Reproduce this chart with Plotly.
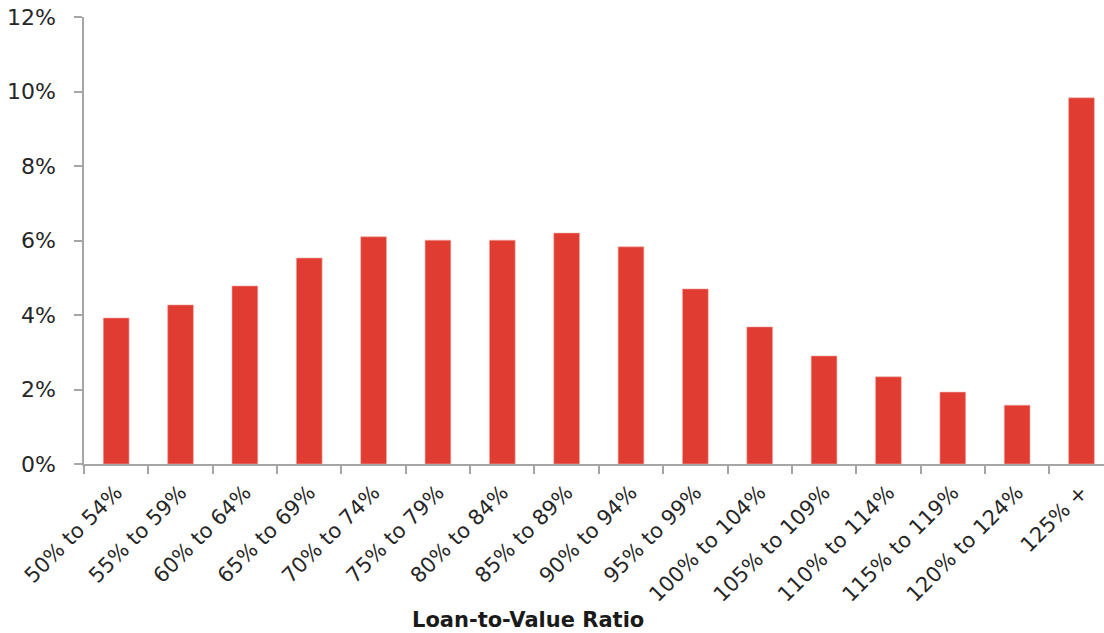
import plotly.graph_objects as go

categories = ["50% to 54%", "55% to 59%", "60% to 64%", "65% to 69%", "70% to 74%",
              "75% to 79%", "80% to 84%", "85% to 89%", "90% to 94%", "95% to 99%",
              "100% to 104%", "105% to 109%", "110% to 114%", "115% to 119%",
              "120% to 124%", "125% +"]
shares = [3.92, 4.27, 4.78, 5.53, 6.10, 6.01, 6.01, 6.20, 5.83, 4.70,
          3.68, 2.90, 2.34, 1.93, 1.58, 9.83]
y_ticks = [0, 2, 4, 6, 8, 10, 12]
y_tick_text = [f"{v}%" for v in y_ticks]

axis_grey = "#a6a6a6"
text_col = "#262626"
font_family = "DejaVu Sans, sans-serif"

fig = go.Figure(go.Bar(
    x=categories,
    y=shares,
    width=0.4,
    marker=dict(color="#e03c31", line=dict(color="#f2a9a3", width=0.6)),
    hoverinfo="skip",
))

fig.update_layout(
    width=1104, height=633,
    margin=dict(l=84, r=0, t=17, b=169),
    paper_bgcolor="white", plot_bgcolor="white",
    showlegend=False,
    font=dict(family=font_family, color=text_col),
    xaxis=dict(
        type="category",
        range=[-0.5, 15.35],
        tickangle=-45,
        tickfont=dict(size=21, color=text_col),
        showline=True, linecolor=axis_grey, linewidth=1.5,
        ticks="outside", ticklen=8, tickcolor=axis_grey, tickwidth=1.5,
        tickson="boundaries",
        ticklabelstandoff=6,
        showgrid=False, zeroline=False,
    ),
    yaxis=dict(
        range=[0, 12],
        tickmode="array",
        tickvals=y_ticks,
        ticktext=y_tick_text,
        tickfont=dict(size=22, color=text_col),
        showline=True, linecolor=axis_grey, linewidth=1.5,
        ticks="outside", ticklen=8, tickcolor=axis_grey, tickwidth=1.5,
        ticklabelstandoff=14,
        showgrid=False, zeroline=False,
    ),
    annotations=[dict(
        text="<b>Loan-to-Value Ratio</b>",
        xref="paper", yref="paper",
        x=(528 - 84) / (1104 - 84), y=-(620 - 464) / (464 - 17),
        xanchor="center", yanchor="middle",
        showarrow=False,
        font=dict(size=21, color="#1a1a1a", family=font_family),
    )],
)

fig.write_html("out.html")
